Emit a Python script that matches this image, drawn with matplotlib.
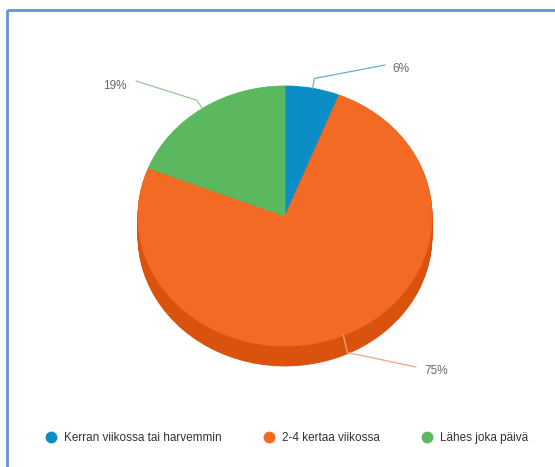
import numpy as np
import matplotlib
matplotlib.use("Agg")
import matplotlib.pyplot as plt
from matplotlib.lines import Line2D
from matplotlib.patches import Rectangle

plt.rcParams['font.family'] = ['Liberation Sans', 'DejaVu Sans']

# survey answers, share of respondents (%)
labels = ['Kerran viikossa tai harvemmin', '2-4 kertaa viikossa', 'Lähes joka päivä']
shares = [6, 75, 19]
colors = ['#0b8ec6', '#f26a24', '#5cb85f']
side_colors = ['#0874a3', '#d9530f', '#4a9a4d']
line_colors = ['#6aaed6', '#f5a27c', '#92cc94']

W, H = 555, 467
cx, cy = 285, 216          # centre of the top face, pixels
rx, ry = 147, 130          # radii of the top face, pixels
depth = 20                 # thickness of the pie, pixels
lim = 1.2

fig = plt.figure(figsize=(W / 100, H / 100), dpi=100)

# pie axes stretched so the unit circle becomes the tilted ellipse
ax = fig.add_axes([(cx - lim * rx) / W, (H - cy - lim * ry) / H,
                   2 * lim * rx / W, 2 * lim * ry / H])
d = depth / ry
for off in np.linspace(d, 0, 24)[:-1]:
    sw, _ = ax.pie(shares, colors=side_colors, startangle=90, counterclock=False,
                   center=(0, -off), wedgeprops=dict(linewidth=0))
    for w in sw:
        w.set_edgecolor(w.get_facecolor())
        w.set_linewidth(0.6)
top, _ = ax.pie(shares, colors=colors, startangle=90, counterclock=False,
                wedgeprops=dict(linewidth=0))
for w in top:
    w.set_edgecolor(w.get_facecolor())
    w.set_linewidth(0.6)
ax.set_aspect('auto')
ax.set_xlim(-lim, lim)
ax.set_ylim(-lim, lim)
ax.axis('off')

# overlay in pixel coordinates for the frame and the label leaders
ov = fig.add_axes([0, 0, 1, 1])
ov.set_xlim(0, W)
ov.set_ylim(H, 0)
ov.axis('off')
ov.patch.set_alpha(0)
ov.add_patch(Rectangle((7, 10), W, H, fill=False, edgecolor='#6693d6', linewidth=2.0))

# where each leader line ends and its text sits (same order as shares)
label_ends = [(385, 65), (416, 367), (136, 81)]
label_text = [(392, 69, 'left'), (424, 371, 'left'), (127, 86, 'right')]

cum = np.cumsum([0] + shares)
for i, v in enumerate(shares):
    mid = np.deg2rad((cum[i] + v / 2) / sum(shares) * 360)
    ax0 = cx + rx * np.sin(mid)
    ay0 = cy - ry * np.cos(mid)
    ex = cx + (rx + 10) * np.sin(mid)
    ey = cy - (ry + 10) * np.cos(mid)
    if np.cos(mid) < 0:
        ey += depth * 0.4
    lx, ly = label_ends[i]
    ov.plot([ax0, ex, lx], [ay0, ey, ly], color=line_colors[i], linewidth=0.9,
            solid_capstyle='round')
    tx, ty, ha = label_text[i]
    ov.text(tx, ty, f'{v}%', ha=ha, va='center', fontsize=8.5, color='#666666')

handles = [Line2D([], [], linestyle='none', marker='o', markersize=7.5,
                  markerfacecolor=c, markeredgecolor=c) for c in colors]
fig.legend(handles, labels, loc='center left', bbox_to_anchor=(46 / W, 1 - 438 / H),
           ncol=3, frameon=False, fontsize=8.5, handlelength=0.8, handletextpad=0.7,
           columnspacing=3.6, borderpad=0, borderaxespad=0, labelcolor='#333333')

fig.savefig('out.png', dpi=100)
